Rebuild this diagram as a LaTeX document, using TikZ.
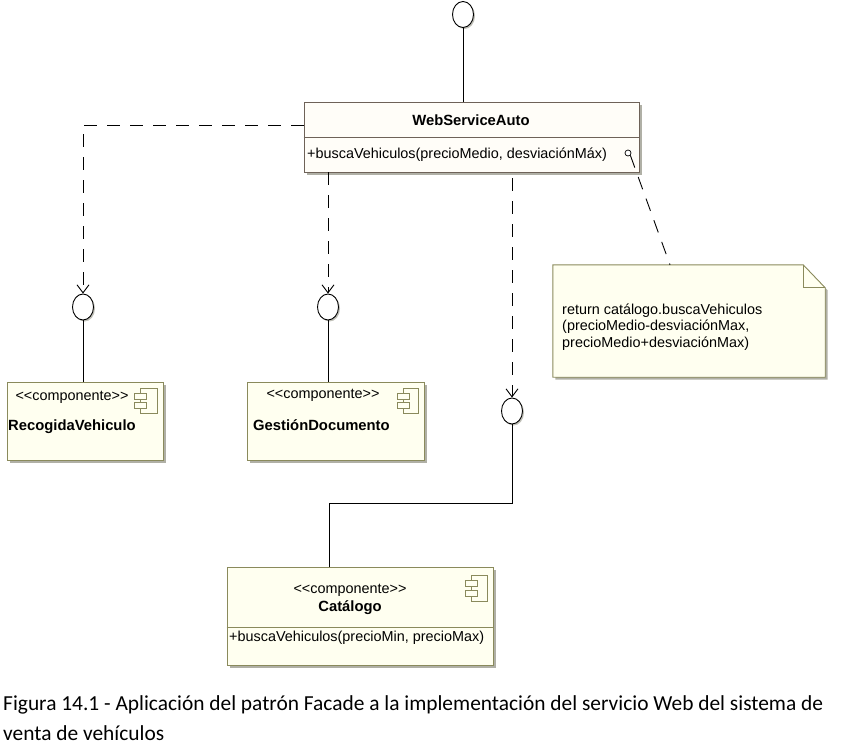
\documentclass[tikz,border=0pt]{standalone}
\usepackage{fontspec}
\setmainfont{Liberation Sans}[Ligatures=TeXOff]
\newfontfamily\capfont{Carlito}
\usetikzlibrary{arrows.meta,calc,shapes.geometric,shadows}
\definecolor{wsaborder}{HTML}{6E6258}
\definecolor{wsafill}{HTML}{FFFDF8}
\definecolor{compborder}{HTML}{8A8A5C}
\definecolor{compfill}{HTML}{FFFFF0}
\definecolor{shadowgrey}{HTML}{B0B0A6}
\begin{document}
\begin{tikzpicture}[x=1pt,y=-1pt,
  every node/.style={font=\fontsize{14.4}{17}\selectfont},
  bf/.style={font=\fontsize{14.8}{17}\bfseries},
  sh/.style={drop shadow={shadow xshift=2.5pt,shadow yshift=-2.5pt,fill=shadowgrey,opacity=1}},
  iface/.style={ellipse,draw,line width=0.9pt,fill=white,minimum width=21pt,minimum height=26pt,inner sep=0pt,
     drop shadow={shadow xshift=1.5pt,shadow yshift=-1.5pt,fill=shadowgrey,opacity=0.8}},
  wsabox/.style={rectangle,draw=wsaborder,fill=wsafill,line width=0.9pt,inner sep=0pt,sh},
  compbox/.style={rectangle,draw=compborder,fill=compfill,line width=0.9pt,inner sep=0pt,sh},
  txt/.style={inner sep=0pt},
  conn/.style={line width=0.9pt,black},
  dep/.style={line width=0.9pt,black,dash pattern=on 13pt off 10pt,
     -{Straight Barb[length=8pt,width=12pt,line width=0.9pt]}},
  icon/.style={draw=compborder,fill=compfill,line width=0.8pt},
]
\useasboundingbox (0,0) rectangle (843,745);

% ---- WebServiceAuto ----
\node[wsabox,minimum width=335pt,minimum height=70pt] (wsa) at (471.5,137) {};
\draw[wsaborder,line width=0.9pt] (wsa.west) -- (wsa.east);
\node[txt,bf] (wsat) at (471,120) {WebServiceAuto};
\node[txt,anchor=west] (wsam) at (307,155) {+buscaVehiculos(precioMedio, desviaciónMáx)};
\node[circle,draw,line width=0.7pt,fill=white,minimum size=6pt,inner sep=0pt] (port) at (628,153) {};

% ---- top interface ----
\node[iface] (itop) at (463,14.5) {};
\draw[conn] (itop.south) -- (itop.south |- wsa.north);

% ---- required interfaces ----
\node[iface] (ireco) at (83,307) {};
\node[iface] (igest) at (328,307) {};
\node[iface] (icat)  at (512,411) {};

\draw[dep] ([yshift=12pt]wsa.west) -| (ireco.north);
\draw[dep] (igest.north |- wsa.south) -- (igest.north);
\draw[dep] ([yshift=-6pt]icat.north |- wsa.south) -- (icat.north);

% ---- RecogidaVehiculo ----
\node[compbox,minimum width=156pt,minimum height=78pt] (reco) at (85,421) {};
\node[txt] (recos) at (72,397) {<<componente>>};
\node[txt,anchor=west,bf] (recon) at (8,427) {RecogidaVehiculo};
\draw[icon] (140,388) rectangle (157,413);
\draw[icon] (134,393) rectangle (146,399);
\draw[icon] (134,402) rectangle (146,408);
\draw[conn] (ireco.south) -- (ireco.south |- reco.north);

% ---- GestionDocumento ----
\node[compbox,minimum width=177pt,minimum height=78pt] (gest) at (335.5,421) {};
\node[txt] (gests) at (323,395) {<<componente>>};
\node[txt,anchor=west,bf] (gestn) at (253,425) {GestiónDocumento};
\draw[icon] (403,388) rectangle (418,413);
\draw[icon] (397,393) rectangle (409,399);
\draw[icon] (397,402) rectangle (409,408);
\draw[conn] (igest.south) -- (igest.south |- gest.north);

% ---- Catalogo ----
\node[compbox,minimum width=266pt,minimum height=98pt] (cat) at (360,616) {};
\draw[compborder,line width=0.9pt] (cat.west |- 0,627) -- (cat.east |- 0,627);
\node[txt] (cats) at (350,590) {<<componente>>};
\node[txt,bf] (catn) at (350,608) {Catálogo};
\node[txt,anchor=west] (catm) at (229,638) {+buscaVehiculos(precioMin, precioMax)};
\draw[icon] (471,575) rectangle (487,601);
\draw[icon] (465,580) rectangle (477,586);
\draw[icon] (465,590) rectangle (477,596);
\coordinate (elbow) at (512,503);
\coordinate (catin) at (329,567);
\draw[conn] (icat.south) -- (elbow) -| (catin);

% ---- Note ----
\node[minimum width=272pt,minimum height=112pt,inner sep=0pt] (note) at (689,321) {};
\filldraw[draw=compborder,fill=compfill,line width=0.9pt,sh]
  (note.north west) -- ([xshift=-22pt]note.north east) -- ([yshift=-23pt]note.north east)
  -- (note.south east) -- (note.south west) -- cycle;
\draw[compborder,line width=0.9pt] ([xshift=-22pt]note.north east) -- ([xshift=-22pt,yshift=-23pt]note.north east)
  -- ([yshift=-23pt]note.north east);
\node[txt,anchor=west,align=left,font=\fontsize{14.4}{16.5}\selectfont] (notet) at (562,327)
  {return catálogo.buscaVehiculos\\(precioMedio-desviaciónMax,\\precioMedio+desviaciónMax)};
\draw[conn,dash pattern=on 13pt off 10pt] (port.south east) -- ([xshift=-19pt]note.north);

% ---- Caption ----
\node[anchor=west,align=left,inner sep=0pt,font=\capfont\fontsize{21.4}{30}\selectfont] (cap) at (3,718)
  {Figura 14.1 - Aplicación del patrón Facade a la implementación del servicio Web del sistema de\\venta de vehículos};
\end{tikzpicture}
\end{document}
